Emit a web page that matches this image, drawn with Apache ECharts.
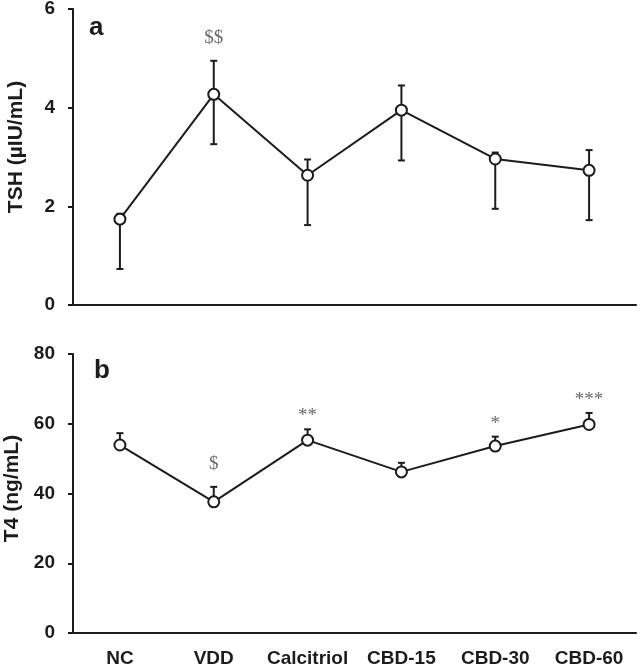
<!DOCTYPE html>
<html>
<head>
<meta charset="utf-8">
<script src="https://cdn.jsdelivr.net/npm/echarts@6/dist/echarts.min.js"></script>
<style>html,body{margin:0;padding:0;background:#fff}#c{width:644px;height:667px}</style>
</head>
<body>
<div id="c"></div>
<script>
const categories = ['NC', 'VDD', 'Calcitriol', 'CBD-15', 'CBD-30', 'CBD-60'];
const tshMean  = [1.74, 4.27, 2.63, 3.95, 2.96, 2.73];
const tshUpper = [1.85, 4.95, 2.95, 4.45, 3.09, 3.14];
const tshLower = [0.73, 3.26, 1.62, 2.93, 1.95, 1.72];
const tshMarks = ['', '$$', '', '', '', ''];
const t4Mean  = [53.9, 37.6, 55.3, 46.2, 53.6, 59.8];
const t4Upper = [57.3, 41.9, 58.4, 48.8, 56.3, 63.1];
const t4Marks = ['', '$', '**', '', '*', '***'];
const tshTicks = [0, 2, 4, 6];
const t4Ticks = [0, 20, 40, 60, 80];

const INK = '#1c1c1c';
const FONT = '"Liberation Sans", Arial, sans-serif';
const chart = echarts.init(document.getElementById('c'));

function errorBar(marks, bottomCap) {
  return function (params, api) {
    const x = api.value(0);
    const lo = api.coord([x, api.value(1)]);
    const hi = api.coord([x, api.value(2)]);
    const w = 3.5;
    const st = { stroke: INK, lineWidth: 2 };
    const children = [
      { type: 'line', shape: { x1: hi[0], y1: hi[1], x2: lo[0], y2: lo[1] }, style: st },
      { type: 'line', shape: { x1: hi[0] - w, y1: hi[1], x2: hi[0] + w, y2: hi[1] }, style: st }
    ];
    if (bottomCap) {
      children.push({ type: 'line', shape: { x1: lo[0] - w, y1: lo[1], x2: lo[0] + w, y2: lo[1] }, style: st });
    }
    const m = marks[params.dataIndex];
    if (m) {
      const isStar = m.indexOf('*') >= 0;
      children.push({
        type: 'text',
        style: {
          text: m, x: hi[0], y: hi[1] - (isStar ? 13 : 23),
          textAlign: 'center', textVerticalAlign: 'middle',
          font: '19px "Liberation Serif", serif', fill: '#6a6a6a'
        }
      });
    }
    return { type: 'group', children: children };
  };
}

const yLabel = { color: INK, fontFamily: FONT, fontWeight: 'bold', fontSize: 19, margin: 18 };

chart.setOption({
  animation: false,
  title: [
    { text: 'a', left: 84, top: 10, textStyle: { fontFamily: FONT, fontWeight: 'bold', fontSize: 26, color: INK } },
    { text: 'b', left: 89, top: 353, textStyle: { fontFamily: FONT, fontWeight: 'bold', fontSize: 26, color: INK } }
  ],
  grid: [
    { left: 73, right: 8, top: 9, height: 296, outerBoundsMode: 'none', containLabel: false },
    { left: 73, right: 8, top: 354, height: 279, outerBoundsMode: 'none', containLabel: false }
  ],
  xAxis: [
    { type: 'category', gridIndex: 0, data: categories, boundaryGap: true,
      axisLine: { lineStyle: { color: INK, width: 2 } }, axisTick: { show: false }, axisLabel: { show: false } },
    { type: 'category', gridIndex: 1, data: categories, boundaryGap: true,
      axisLine: { lineStyle: { color: INK, width: 2 } }, axisTick: { show: false },
      axisLabel: { color: INK, fontFamily: FONT, fontWeight: 'bold', fontSize: 19, margin: 16, interval: 0 } }
  ],
  yAxis: [
    { type: 'value', gridIndex: 0, min: tshTicks[0], max: tshTicks[tshTicks.length - 1], interval: tshTicks[1] - tshTicks[0],
      name: 'TSH (µIU/mL)', nameLocation: 'middle', nameGap: 46,
      nameTextStyle: { color: INK, fontFamily: FONT, fontWeight: 'bold', fontSize: 21, padding: [0, 0, 0, 20] },
      axisLine: { show: true, lineStyle: { color: INK, width: 2 } },
      axisTick: { show: true, inside: false, length: 5, lineStyle: { color: INK, width: 2 } },
      axisLabel: yLabel, splitLine: { show: false } },
    { type: 'value', gridIndex: 1, min: t4Ticks[0], max: t4Ticks[t4Ticks.length - 1], interval: t4Ticks[1] - t4Ticks[0],
      name: 'T4 (ng/mL)', nameLocation: 'middle', nameGap: 46,
      nameTextStyle: { color: INK, fontFamily: FONT, fontWeight: 'bold', fontSize: 21, padding: [0, 0, 0, 10] },
      axisLine: { show: true, lineStyle: { color: INK, width: 2 } },
      axisTick: { show: true, inside: false, length: 5, lineStyle: { color: INK, width: 2 } },
      axisLabel: yLabel, splitLine: { show: false } }
  ],
  series: [
    { type: 'custom', xAxisIndex: 0, yAxisIndex: 0, z: 2,
      renderItem: errorBar(tshMarks, true),
      data: categories.map((c, i) => [i, tshLower[i], tshUpper[i]]) },
    { type: 'line', xAxisIndex: 0, yAxisIndex: 0, z: 5, data: tshMean,
      symbol: 'circle', symbolSize: 11,
      lineStyle: { color: INK, width: 2 },
      itemStyle: { color: '#fff', borderColor: INK, borderWidth: 2 } },
    { type: 'custom', xAxisIndex: 1, yAxisIndex: 1, z: 2,
      renderItem: errorBar(t4Marks, false),
      data: categories.map((c, i) => [i, t4Mean[i], t4Upper[i]]) },
    { type: 'line', xAxisIndex: 1, yAxisIndex: 1, z: 5, data: t4Mean,
      symbol: 'circle', symbolSize: 11,
      lineStyle: { color: INK, width: 2 },
      itemStyle: { color: '#fff', borderColor: INK, borderWidth: 2 } }
  ]
});
</script>
</body>
</html>
